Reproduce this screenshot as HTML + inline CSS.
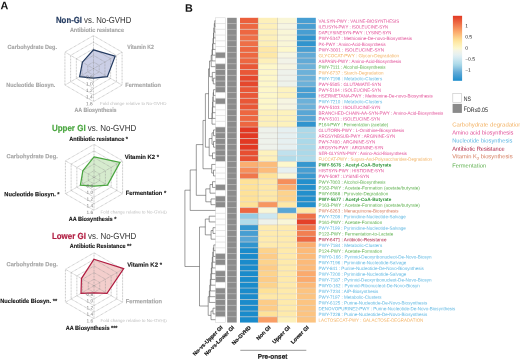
<!DOCTYPE html>
<html><head><meta charset="utf-8"><style>html,body{margin:0;padding:0;background:#fff;width:520px;height:360px;overflow:hidden}svg{display:block}</style></head><body>
<svg width="520" height="360" viewBox="0 0 520 360" font-family='"Liberation Sans", sans-serif' text-rendering="geometricPrecision">
<rect width="520" height="360" fill="#fff"/>
<rect x="240.0" y="17.80" width="18.20" height="5.75" fill="#eb5f3c"/>
<rect x="258.2" y="17.80" width="19.30" height="5.75" fill="#fdf0ba"/>
<rect x="277.5" y="17.80" width="18.80" height="5.75" fill="#f9f6d7"/>
<rect x="296.9" y="17.80" width="18.90" height="5.75" fill="#479ed2"/>
<rect x="240.0" y="23.55" width="18.20" height="5.75" fill="#ed6741"/>
<rect x="258.2" y="23.55" width="19.30" height="5.75" fill="#fdf0ba"/>
<rect x="277.5" y="23.55" width="18.80" height="5.75" fill="#f6f5e2"/>
<rect x="296.9" y="23.55" width="18.90" height="5.75" fill="#479ed2"/>
<rect x="240.0" y="29.30" width="18.20" height="5.75" fill="#ed6741"/>
<rect x="258.2" y="29.30" width="19.30" height="5.75" fill="#fdf0ba"/>
<rect x="277.5" y="29.30" width="18.80" height="5.75" fill="#f9f6d7"/>
<rect x="296.9" y="29.30" width="18.90" height="5.75" fill="#479ed2"/>
<rect x="240.0" y="35.05" width="18.20" height="5.75" fill="#ee6f47"/>
<rect x="258.2" y="35.05" width="19.30" height="5.75" fill="#fdf0ba"/>
<rect x="277.5" y="35.05" width="18.80" height="5.75" fill="#f9f6d7"/>
<rect x="296.9" y="35.05" width="18.90" height="5.75" fill="#3094ce"/>
<rect x="240.0" y="40.80" width="18.20" height="5.75" fill="#ee6f47"/>
<rect x="258.2" y="40.80" width="19.30" height="5.75" fill="#fdefb6"/>
<rect x="277.5" y="40.80" width="18.80" height="5.75" fill="#f9f6d7"/>
<rect x="296.9" y="40.80" width="18.90" height="5.75" fill="#3094ce"/>
<rect x="240.0" y="46.55" width="18.20" height="5.75" fill="#ed6741"/>
<rect x="258.2" y="46.55" width="19.30" height="5.75" fill="#fee8a7"/>
<rect x="277.5" y="46.55" width="18.80" height="5.75" fill="#fdf8cc"/>
<rect x="296.9" y="46.55" width="18.90" height="5.75" fill="#479ed2"/>
<rect x="240.0" y="52.30" width="18.20" height="5.75" fill="#ed6741"/>
<rect x="258.2" y="52.30" width="19.30" height="5.75" fill="#fee8a7"/>
<rect x="277.5" y="52.30" width="18.80" height="5.75" fill="#f6f5e2"/>
<rect x="296.9" y="52.30" width="18.90" height="5.75" fill="#62aad6"/>
<rect x="240.0" y="58.05" width="18.20" height="5.75" fill="#ed6741"/>
<rect x="258.2" y="58.05" width="19.30" height="5.75" fill="#fdf0ba"/>
<rect x="277.5" y="58.05" width="18.80" height="5.75" fill="#f2f3e8"/>
<rect x="296.9" y="58.05" width="18.90" height="5.75" fill="#62aad6"/>
<rect x="240.0" y="63.80" width="18.20" height="5.75" fill="#e95737"/>
<rect x="258.2" y="63.80" width="19.30" height="5.75" fill="#fdf7c9"/>
<rect x="277.5" y="63.80" width="18.80" height="5.75" fill="#f6f5e2"/>
<rect x="296.9" y="63.80" width="18.90" height="5.75" fill="#6cb1d9"/>
<rect x="240.0" y="69.55" width="18.20" height="5.75" fill="#e95737"/>
<rect x="258.2" y="69.55" width="19.30" height="5.75" fill="#fdf7c9"/>
<rect x="277.5" y="69.55" width="18.80" height="5.75" fill="#eef2eb"/>
<rect x="296.9" y="69.55" width="18.90" height="5.75" fill="#6cb1d9"/>
<rect x="240.0" y="75.30" width="18.20" height="5.75" fill="#e5482d"/>
<rect x="258.2" y="75.30" width="19.30" height="5.75" fill="#fdf7c9"/>
<rect x="277.5" y="75.30" width="18.80" height="5.75" fill="#eef2eb"/>
<rect x="296.9" y="75.30" width="18.90" height="5.75" fill="#6cb1d9"/>
<rect x="240.0" y="81.05" width="18.20" height="5.75" fill="#e5482d"/>
<rect x="258.2" y="81.05" width="19.30" height="5.75" fill="#fdf7c9"/>
<rect x="277.5" y="81.05" width="18.80" height="5.75" fill="#eef2eb"/>
<rect x="296.9" y="81.05" width="18.90" height="5.75" fill="#6cb1d9"/>
<rect x="240.0" y="86.80" width="18.20" height="5.75" fill="#e95737"/>
<rect x="258.2" y="86.80" width="19.30" height="5.75" fill="#fdf7c9"/>
<rect x="277.5" y="86.80" width="18.80" height="5.75" fill="#fdf3c0"/>
<rect x="296.9" y="86.80" width="18.90" height="5.75" fill="#479ed2"/>
<rect x="240.0" y="92.55" width="18.20" height="5.75" fill="#e95737"/>
<rect x="258.2" y="92.55" width="19.30" height="5.75" fill="#fdf7c9"/>
<rect x="277.5" y="92.55" width="18.80" height="5.75" fill="#fdf3c0"/>
<rect x="296.9" y="92.55" width="18.90" height="5.75" fill="#479ed2"/>
<rect x="240.0" y="98.30" width="18.20" height="5.75" fill="#e95737"/>
<rect x="258.2" y="98.30" width="19.30" height="5.75" fill="#fdf7c9"/>
<rect x="277.5" y="98.30" width="18.80" height="5.75" fill="#f6f5e2"/>
<rect x="296.9" y="98.30" width="18.90" height="5.75" fill="#6cb1d9"/>
<rect x="240.0" y="104.05" width="18.20" height="5.75" fill="#e95737"/>
<rect x="258.2" y="104.05" width="19.30" height="5.75" fill="#fdf7c9"/>
<rect x="277.5" y="104.05" width="18.80" height="5.75" fill="#f6f5e2"/>
<rect x="296.9" y="104.05" width="18.90" height="5.75" fill="#6cb1d9"/>
<rect x="240.0" y="109.80" width="18.20" height="5.75" fill="#ed6741"/>
<rect x="258.2" y="109.80" width="19.30" height="5.75" fill="#fdf0ba"/>
<rect x="277.5" y="109.80" width="18.80" height="5.75" fill="#fdf2bd"/>
<rect x="296.9" y="109.80" width="18.90" height="5.75" fill="#59a6d5"/>
<rect x="240.0" y="115.55" width="18.20" height="5.75" fill="#ed6741"/>
<rect x="258.2" y="115.55" width="19.30" height="5.75" fill="#fdf0ba"/>
<rect x="277.5" y="115.55" width="18.80" height="5.75" fill="#fdf2bd"/>
<rect x="296.9" y="115.55" width="18.90" height="5.75" fill="#59a6d5"/>
<rect x="240.0" y="121.30" width="18.20" height="5.75" fill="#ed6741"/>
<rect x="258.2" y="121.30" width="19.30" height="5.75" fill="#fdf0ba"/>
<rect x="277.5" y="121.30" width="18.80" height="5.75" fill="#fdf2bd"/>
<rect x="296.9" y="121.30" width="18.90" height="5.75" fill="#3094ce"/>
<rect x="240.0" y="127.05" width="18.20" height="5.75" fill="#e23823"/>
<rect x="258.2" y="127.05" width="19.30" height="5.75" fill="#eef2eb"/>
<rect x="277.5" y="127.05" width="18.80" height="5.75" fill="#e6f0f1"/>
<rect x="296.9" y="127.05" width="18.90" height="5.75" fill="#abd9e9"/>
<rect x="240.0" y="132.80" width="18.20" height="5.75" fill="#e23823"/>
<rect x="258.2" y="132.80" width="19.30" height="5.75" fill="#eef2eb"/>
<rect x="277.5" y="132.80" width="18.80" height="5.75" fill="#e6f0f1"/>
<rect x="296.9" y="132.80" width="18.90" height="5.75" fill="#abd9e9"/>
<rect x="240.0" y="138.55" width="18.20" height="5.75" fill="#e23823"/>
<rect x="258.2" y="138.55" width="19.30" height="5.75" fill="#eef2eb"/>
<rect x="277.5" y="138.55" width="18.80" height="5.75" fill="#e6f0f1"/>
<rect x="296.9" y="138.55" width="18.90" height="5.75" fill="#abd9e9"/>
<rect x="240.0" y="144.30" width="18.20" height="5.75" fill="#e23823"/>
<rect x="258.2" y="144.30" width="19.30" height="5.75" fill="#eef2eb"/>
<rect x="277.5" y="144.30" width="18.80" height="5.75" fill="#e6f0f1"/>
<rect x="296.9" y="144.30" width="18.90" height="5.75" fill="#abd9e9"/>
<rect x="240.0" y="150.05" width="18.20" height="5.75" fill="#e74f32"/>
<rect x="258.2" y="150.05" width="19.30" height="5.75" fill="#fdf2bd"/>
<rect x="277.5" y="150.05" width="18.80" height="5.75" fill="#c0e1ed"/>
<rect x="296.9" y="150.05" width="18.90" height="5.75" fill="#abd9e9"/>
<rect x="240.0" y="155.80" width="18.20" height="5.75" fill="#e74f32"/>
<rect x="258.2" y="155.80" width="19.30" height="5.75" fill="#fdf0ba"/>
<rect x="277.5" y="155.80" width="18.80" height="5.75" fill="#b2dcea"/>
<rect x="296.9" y="155.80" width="18.90" height="5.75" fill="#afdbea"/>
<rect x="240.0" y="161.55" width="18.20" height="5.75" fill="#fbae70"/>
<rect x="258.2" y="161.55" width="19.30" height="5.75" fill="#fcbc7b"/>
<rect x="277.5" y="161.55" width="18.80" height="5.75" fill="#fdf8cc"/>
<rect x="296.9" y="161.55" width="18.90" height="5.75" fill="#3597cf"/>
<rect x="240.0" y="167.30" width="18.20" height="5.75" fill="#f68e5b"/>
<rect x="258.2" y="167.30" width="19.30" height="5.75" fill="#fcbc7b"/>
<rect x="277.5" y="167.30" width="18.80" height="5.75" fill="#e6f0f1"/>
<rect x="296.9" y="167.30" width="18.90" height="5.75" fill="#479ed2"/>
<rect x="240.0" y="173.05" width="18.20" height="5.75" fill="#f0774c"/>
<rect x="258.2" y="173.05" width="19.30" height="5.75" fill="#fee298"/>
<rect x="277.5" y="173.05" width="18.80" height="5.75" fill="#f9f6d7"/>
<rect x="296.9" y="173.05" width="18.90" height="5.75" fill="#3998d0"/>
<rect x="240.0" y="178.80" width="18.20" height="5.75" fill="#fee298"/>
<rect x="258.2" y="178.80" width="19.30" height="5.75" fill="#fee8a7"/>
<rect x="277.5" y="178.80" width="18.80" height="5.75" fill="#f68e5b"/>
<rect x="296.9" y="178.80" width="18.90" height="5.75" fill="#238fcc"/>
<rect x="240.0" y="184.55" width="18.20" height="5.75" fill="#fee298"/>
<rect x="258.2" y="184.55" width="19.30" height="5.75" fill="#fee8a7"/>
<rect x="277.5" y="184.55" width="18.80" height="5.75" fill="#fbae70"/>
<rect x="296.9" y="184.55" width="18.90" height="5.75" fill="#238fcc"/>
<rect x="240.0" y="190.30" width="18.20" height="5.75" fill="#fee298"/>
<rect x="258.2" y="190.30" width="19.30" height="5.75" fill="#fee8a7"/>
<rect x="277.5" y="190.30" width="18.80" height="5.75" fill="#fdd38c"/>
<rect x="296.9" y="190.30" width="18.90" height="5.75" fill="#238fcc"/>
<rect x="240.0" y="196.05" width="18.20" height="5.75" fill="#fee298"/>
<rect x="258.2" y="196.05" width="19.30" height="5.75" fill="#fee8a7"/>
<rect x="277.5" y="196.05" width="18.80" height="5.75" fill="#fdd38c"/>
<rect x="296.9" y="196.05" width="18.90" height="5.75" fill="#238fcc"/>
<rect x="240.0" y="201.80" width="18.20" height="5.75" fill="#fee298"/>
<rect x="258.2" y="201.80" width="19.30" height="5.75" fill="#f79660"/>
<rect x="277.5" y="201.80" width="18.80" height="5.75" fill="#fee8a7"/>
<rect x="296.9" y="201.80" width="18.90" height="5.75" fill="#238fcc"/>
<rect x="240.0" y="207.55" width="18.20" height="5.75" fill="#ed6741"/>
<rect x="258.2" y="207.55" width="19.30" height="5.75" fill="#f9f6d7"/>
<rect x="277.5" y="207.55" width="18.80" height="5.75" fill="#59a6d5"/>
<rect x="296.9" y="207.55" width="18.90" height="5.75" fill="#fee8a7"/>
<rect x="240.0" y="213.30" width="18.20" height="5.75" fill="#96cce4"/>
<rect x="258.2" y="213.30" width="19.30" height="5.75" fill="#cde7f0"/>
<rect x="277.5" y="213.30" width="18.80" height="5.75" fill="#fee8a7"/>
<rect x="296.9" y="213.30" width="18.90" height="5.75" fill="#ee6f47"/>
<rect x="240.0" y="219.05" width="18.20" height="5.75" fill="#b2dcea"/>
<rect x="258.2" y="219.05" width="19.30" height="5.75" fill="#eef2eb"/>
<rect x="277.5" y="219.05" width="18.80" height="5.75" fill="#f9f6d7"/>
<rect x="296.9" y="219.05" width="18.90" height="5.75" fill="#e44028"/>
<rect x="240.0" y="224.80" width="18.20" height="5.75" fill="#3597cf"/>
<rect x="258.2" y="224.80" width="19.30" height="5.75" fill="#feebae"/>
<rect x="277.5" y="224.80" width="18.80" height="5.75" fill="#feebae"/>
<rect x="296.9" y="224.80" width="18.90" height="5.75" fill="#f0774c"/>
<rect x="240.0" y="230.55" width="18.20" height="5.75" fill="#479ed2"/>
<rect x="258.2" y="230.55" width="19.30" height="5.75" fill="#feebae"/>
<rect x="277.5" y="230.55" width="18.80" height="5.75" fill="#feebae"/>
<rect x="296.9" y="230.55" width="18.90" height="5.75" fill="#f27f51"/>
<rect x="240.0" y="236.30" width="18.20" height="5.75" fill="#59a6d5"/>
<rect x="258.2" y="236.30" width="19.30" height="5.75" fill="#feebae"/>
<rect x="277.5" y="236.30" width="18.80" height="5.75" fill="#feebae"/>
<rect x="296.9" y="236.30" width="18.90" height="5.75" fill="#ed6741"/>
<rect x="240.0" y="242.05" width="18.20" height="5.75" fill="#3094ce"/>
<rect x="258.2" y="242.05" width="19.30" height="5.75" fill="#feebae"/>
<rect x="277.5" y="242.05" width="18.80" height="5.75" fill="#feebae"/>
<rect x="296.9" y="242.05" width="18.90" height="5.75" fill="#fbae70"/>
<rect x="240.0" y="247.80" width="18.20" height="5.75" fill="#1a8bcb"/>
<rect x="258.2" y="247.80" width="19.30" height="5.75" fill="#fdd38c"/>
<rect x="277.5" y="247.80" width="18.80" height="5.75" fill="#feeaab"/>
<rect x="296.9" y="247.80" width="18.90" height="5.75" fill="#fcba79"/>
<rect x="240.0" y="253.55" width="18.20" height="5.75" fill="#1a8bcb"/>
<rect x="258.2" y="253.55" width="19.30" height="5.75" fill="#fdcc87"/>
<rect x="277.5" y="253.55" width="18.80" height="5.75" fill="#feeaab"/>
<rect x="296.9" y="253.55" width="18.90" height="5.75" fill="#fcba79"/>
<rect x="240.0" y="259.30" width="18.20" height="5.75" fill="#1a8bcb"/>
<rect x="258.2" y="259.30" width="19.30" height="5.75" fill="#fdd38c"/>
<rect x="277.5" y="259.30" width="18.80" height="5.75" fill="#feeaab"/>
<rect x="296.9" y="259.30" width="18.90" height="5.75" fill="#fcba79"/>
<rect x="240.0" y="265.05" width="18.20" height="5.75" fill="#1a8bcb"/>
<rect x="258.2" y="265.05" width="19.30" height="5.75" fill="#fdcc87"/>
<rect x="277.5" y="265.05" width="18.80" height="5.75" fill="#feeaab"/>
<rect x="296.9" y="265.05" width="18.90" height="5.75" fill="#fcba79"/>
<rect x="240.0" y="270.80" width="18.20" height="5.75" fill="#1a8bcb"/>
<rect x="258.2" y="270.80" width="19.30" height="5.75" fill="#fdd38c"/>
<rect x="277.5" y="270.80" width="18.80" height="5.75" fill="#feeaab"/>
<rect x="296.9" y="270.80" width="18.90" height="5.75" fill="#fbaa6d"/>
<rect x="240.0" y="276.55" width="18.20" height="5.75" fill="#1a8bcb"/>
<rect x="258.2" y="276.55" width="19.30" height="5.75" fill="#fdcc87"/>
<rect x="277.5" y="276.55" width="18.80" height="5.75" fill="#feeaab"/>
<rect x="296.9" y="276.55" width="18.90" height="5.75" fill="#fbaa6d"/>
<rect x="240.0" y="282.30" width="18.20" height="5.75" fill="#1a8bcb"/>
<rect x="258.2" y="282.30" width="19.30" height="5.75" fill="#fdd38c"/>
<rect x="277.5" y="282.30" width="18.80" height="5.75" fill="#feeaab"/>
<rect x="296.9" y="282.30" width="18.90" height="5.75" fill="#fcba79"/>
<rect x="240.0" y="288.05" width="18.20" height="5.75" fill="#1a8bcb"/>
<rect x="258.2" y="288.05" width="19.30" height="5.75" fill="#fee298"/>
<rect x="277.5" y="288.05" width="18.80" height="5.75" fill="#feeaab"/>
<rect x="296.9" y="288.05" width="18.90" height="5.75" fill="#fcc481"/>
<rect x="240.0" y="293.80" width="18.20" height="5.75" fill="#1a8bcb"/>
<rect x="258.2" y="293.80" width="19.30" height="5.75" fill="#fee8a7"/>
<rect x="277.5" y="293.80" width="18.80" height="5.75" fill="#feeaab"/>
<rect x="296.9" y="293.80" width="18.90" height="5.75" fill="#fcc481"/>
<rect x="240.0" y="299.55" width="18.20" height="5.75" fill="#1a8bcb"/>
<rect x="258.2" y="299.55" width="19.30" height="5.75" fill="#fdcc87"/>
<rect x="277.5" y="299.55" width="18.80" height="5.75" fill="#feeaab"/>
<rect x="296.9" y="299.55" width="18.90" height="5.75" fill="#fcc481"/>
<rect x="240.0" y="305.30" width="18.20" height="5.75" fill="#1a8bcb"/>
<rect x="258.2" y="305.30" width="19.30" height="5.75" fill="#fdcc87"/>
<rect x="277.5" y="305.30" width="18.80" height="5.75" fill="#feeaab"/>
<rect x="296.9" y="305.30" width="18.90" height="5.75" fill="#fcc481"/>
<rect x="240.0" y="311.05" width="18.20" height="5.75" fill="#1a8bcb"/>
<rect x="258.2" y="311.05" width="19.30" height="5.75" fill="#fee298"/>
<rect x="277.5" y="311.05" width="18.80" height="5.75" fill="#feeaab"/>
<rect x="296.9" y="311.05" width="18.90" height="5.75" fill="#fcc481"/>
<rect x="240.0" y="316.80" width="18.20" height="5.75" fill="#1a8bcb"/>
<rect x="258.2" y="316.80" width="19.30" height="5.75" fill="#f99e65"/>
<rect x="277.5" y="316.80" width="18.80" height="5.75" fill="#fdf0ba"/>
<rect x="296.9" y="316.80" width="18.90" height="5.75" fill="#fcc481"/>
<path d="M240 23.55H315.8 M240 29.30H315.8 M240 35.05H315.8 M240 40.80H315.8 M240 46.55H315.8 M240 52.30H315.8 M240 58.05H315.8 M240 63.80H315.8 M240 69.55H315.8 M240 75.30H315.8 M240 81.05H315.8 M240 86.80H315.8 M240 92.55H315.8 M240 98.30H315.8 M240 104.05H315.8 M240 109.80H315.8 M240 115.55H315.8 M240 121.30H315.8 M240 127.05H315.8 M240 132.80H315.8 M240 138.55H315.8 M240 144.30H315.8 M240 150.05H315.8 M240 155.80H315.8 M240 161.55H315.8 M240 167.30H315.8 M240 173.05H315.8 M240 178.80H315.8 M240 184.55H315.8 M240 190.30H315.8 M240 196.05H315.8 M240 201.80H315.8 M240 207.55H315.8 M240 213.30H315.8 M240 219.05H315.8 M240 224.80H315.8 M240 230.55H315.8 M240 236.30H315.8 M240 242.05H315.8 M240 247.80H315.8 M240 253.55H315.8 M240 259.30H315.8 M240 265.05H315.8 M240 270.80H315.8 M240 276.55H315.8 M240 282.30H315.8 M240 288.05H315.8 M240 293.80H315.8 M240 299.55H315.8 M240 305.30H315.8 M240 311.05H315.8 M240 316.80H315.8" stroke="#d6d0cb" stroke-opacity="0.8" stroke-width="0.75" fill="none"/>
<path d="M258.2 17.8V322.55M277.5 17.8V322.55" stroke="#a8a294" stroke-opacity="0.6" stroke-width="0.6"/>
<rect x="215.4" y="17.80" width="9.9" height="5.75" fill="#ffffff"/>
<rect x="227.2" y="17.80" width="9.5" height="5.75" fill="#8c8c8c"/>
<rect x="215.4" y="23.55" width="9.9" height="5.75" fill="#ffffff"/>
<rect x="227.2" y="23.55" width="9.5" height="5.75" fill="#8c8c8c"/>
<rect x="215.4" y="29.30" width="9.9" height="5.75" fill="#ffffff"/>
<rect x="227.2" y="29.30" width="9.5" height="5.75" fill="#8c8c8c"/>
<rect x="215.4" y="35.05" width="9.9" height="5.75" fill="#ffffff"/>
<rect x="227.2" y="35.05" width="9.5" height="5.75" fill="#8c8c8c"/>
<rect x="215.4" y="40.80" width="9.9" height="5.75" fill="#ffffff"/>
<rect x="227.2" y="40.80" width="9.5" height="5.75" fill="#8c8c8c"/>
<rect x="215.4" y="46.55" width="9.9" height="5.75" fill="#ffffff"/>
<rect x="227.2" y="46.55" width="9.5" height="5.75" fill="#8c8c8c"/>
<rect x="215.4" y="52.30" width="9.9" height="5.75" fill="#8c8c8c"/>
<rect x="227.2" y="52.30" width="9.5" height="5.75" fill="#8c8c8c"/>
<rect x="215.4" y="58.05" width="9.9" height="5.75" fill="#ffffff"/>
<rect x="227.2" y="58.05" width="9.5" height="5.75" fill="#8c8c8c"/>
<rect x="215.4" y="63.80" width="9.9" height="5.75" fill="#8c8c8c"/>
<rect x="227.2" y="63.80" width="9.5" height="5.75" fill="#8c8c8c"/>
<rect x="215.4" y="69.55" width="9.9" height="5.75" fill="#8c8c8c"/>
<rect x="227.2" y="69.55" width="9.5" height="5.75" fill="#8c8c8c"/>
<rect x="215.4" y="75.30" width="9.9" height="5.75" fill="#8c8c8c"/>
<rect x="227.2" y="75.30" width="9.5" height="5.75" fill="#8c8c8c"/>
<rect x="215.4" y="81.05" width="9.9" height="5.75" fill="#8c8c8c"/>
<rect x="227.2" y="81.05" width="9.5" height="5.75" fill="#8c8c8c"/>
<rect x="215.4" y="86.80" width="9.9" height="5.75" fill="#8c8c8c"/>
<rect x="227.2" y="86.80" width="9.5" height="5.75" fill="#8c8c8c"/>
<rect x="215.4" y="92.55" width="9.9" height="5.75" fill="#ffffff"/>
<rect x="227.2" y="92.55" width="9.5" height="5.75" fill="#8c8c8c"/>
<rect x="215.4" y="98.30" width="9.9" height="5.75" fill="#8c8c8c"/>
<rect x="227.2" y="98.30" width="9.5" height="5.75" fill="#8c8c8c"/>
<rect x="215.4" y="104.05" width="9.9" height="5.75" fill="#ffffff"/>
<rect x="227.2" y="104.05" width="9.5" height="5.75" fill="#8c8c8c"/>
<rect x="215.4" y="109.80" width="9.9" height="5.75" fill="#ffffff"/>
<rect x="227.2" y="109.80" width="9.5" height="5.75" fill="#8c8c8c"/>
<rect x="215.4" y="115.55" width="9.9" height="5.75" fill="#ffffff"/>
<rect x="227.2" y="115.55" width="9.5" height="5.75" fill="#8c8c8c"/>
<rect x="215.4" y="121.30" width="9.9" height="5.75" fill="#ffffff"/>
<rect x="227.2" y="121.30" width="9.5" height="5.75" fill="#8c8c8c"/>
<rect x="215.4" y="127.05" width="9.9" height="5.75" fill="#8c8c8c"/>
<rect x="227.2" y="127.05" width="9.5" height="5.75" fill="#8c8c8c"/>
<rect x="215.4" y="132.80" width="9.9" height="5.75" fill="#8c8c8c"/>
<rect x="227.2" y="132.80" width="9.5" height="5.75" fill="#8c8c8c"/>
<rect x="215.4" y="138.55" width="9.9" height="5.75" fill="#8c8c8c"/>
<rect x="227.2" y="138.55" width="9.5" height="5.75" fill="#8c8c8c"/>
<rect x="215.4" y="144.30" width="9.9" height="5.75" fill="#8c8c8c"/>
<rect x="227.2" y="144.30" width="9.5" height="5.75" fill="#8c8c8c"/>
<rect x="215.4" y="150.05" width="9.9" height="5.75" fill="#8c8c8c"/>
<rect x="227.2" y="150.05" width="9.5" height="5.75" fill="#8c8c8c"/>
<rect x="215.4" y="155.80" width="9.9" height="5.75" fill="#8c8c8c"/>
<rect x="227.2" y="155.80" width="9.5" height="5.75" fill="#8c8c8c"/>
<rect x="215.4" y="161.55" width="9.9" height="5.75" fill="#ffffff"/>
<rect x="227.2" y="161.55" width="9.5" height="5.75" fill="#8c8c8c"/>
<rect x="215.4" y="167.30" width="9.9" height="5.75" fill="#ffffff"/>
<rect x="227.2" y="167.30" width="9.5" height="5.75" fill="#8c8c8c"/>
<rect x="215.4" y="173.05" width="9.9" height="5.75" fill="#ffffff"/>
<rect x="227.2" y="173.05" width="9.5" height="5.75" fill="#8c8c8c"/>
<rect x="215.4" y="178.80" width="9.9" height="5.75" fill="#ffffff"/>
<rect x="227.2" y="178.80" width="9.5" height="5.75" fill="#8c8c8c"/>
<rect x="215.4" y="184.55" width="9.9" height="5.75" fill="#8c8c8c"/>
<rect x="227.2" y="184.55" width="9.5" height="5.75" fill="#8c8c8c"/>
<rect x="215.4" y="190.30" width="9.9" height="5.75" fill="#ffffff"/>
<rect x="227.2" y="190.30" width="9.5" height="5.75" fill="#8c8c8c"/>
<rect x="215.4" y="196.05" width="9.9" height="5.75" fill="#8c8c8c"/>
<rect x="227.2" y="196.05" width="9.5" height="5.75" fill="#8c8c8c"/>
<rect x="215.4" y="201.80" width="9.9" height="5.75" fill="#8c8c8c"/>
<rect x="227.2" y="201.80" width="9.5" height="5.75" fill="#8c8c8c"/>
<rect x="215.4" y="207.55" width="9.9" height="5.75" fill="#ffffff"/>
<rect x="227.2" y="207.55" width="9.5" height="5.75" fill="#8c8c8c"/>
<rect x="215.4" y="213.30" width="9.9" height="5.75" fill="#ffffff"/>
<rect x="227.2" y="213.30" width="9.5" height="5.75" fill="#8c8c8c"/>
<rect x="215.4" y="219.05" width="9.9" height="5.75" fill="#ffffff"/>
<rect x="227.2" y="219.05" width="9.5" height="5.75" fill="#8c8c8c"/>
<rect x="215.4" y="224.80" width="9.9" height="5.75" fill="#ffffff"/>
<rect x="227.2" y="224.80" width="9.5" height="5.75" fill="#8c8c8c"/>
<rect x="215.4" y="230.55" width="9.9" height="5.75" fill="#ffffff"/>
<rect x="227.2" y="230.55" width="9.5" height="5.75" fill="#8c8c8c"/>
<rect x="215.4" y="236.30" width="9.9" height="5.75" fill="#ffffff"/>
<rect x="227.2" y="236.30" width="9.5" height="5.75" fill="#8c8c8c"/>
<rect x="215.4" y="242.05" width="9.9" height="5.75" fill="#ffffff"/>
<rect x="227.2" y="242.05" width="9.5" height="5.75" fill="#8c8c8c"/>
<rect x="215.4" y="247.80" width="9.9" height="5.75" fill="#ffffff"/>
<rect x="227.2" y="247.80" width="9.5" height="5.75" fill="#8c8c8c"/>
<rect x="215.4" y="253.55" width="9.9" height="5.75" fill="#8c8c8c"/>
<rect x="227.2" y="253.55" width="9.5" height="5.75" fill="#8c8c8c"/>
<rect x="215.4" y="259.30" width="9.9" height="5.75" fill="#8c8c8c"/>
<rect x="227.2" y="259.30" width="9.5" height="5.75" fill="#8c8c8c"/>
<rect x="215.4" y="265.05" width="9.9" height="5.75" fill="#ffffff"/>
<rect x="227.2" y="265.05" width="9.5" height="5.75" fill="#8c8c8c"/>
<rect x="215.4" y="270.80" width="9.9" height="5.75" fill="#8c8c8c"/>
<rect x="227.2" y="270.80" width="9.5" height="5.75" fill="#8c8c8c"/>
<rect x="215.4" y="276.55" width="9.9" height="5.75" fill="#8c8c8c"/>
<rect x="227.2" y="276.55" width="9.5" height="5.75" fill="#8c8c8c"/>
<rect x="215.4" y="282.30" width="9.9" height="5.75" fill="#ffffff"/>
<rect x="227.2" y="282.30" width="9.5" height="5.75" fill="#8c8c8c"/>
<rect x="215.4" y="288.05" width="9.9" height="5.75" fill="#8c8c8c"/>
<rect x="227.2" y="288.05" width="9.5" height="5.75" fill="#8c8c8c"/>
<rect x="215.4" y="293.80" width="9.9" height="5.75" fill="#8c8c8c"/>
<rect x="227.2" y="293.80" width="9.5" height="5.75" fill="#8c8c8c"/>
<rect x="215.4" y="299.55" width="9.9" height="5.75" fill="#8c8c8c"/>
<rect x="227.2" y="299.55" width="9.5" height="5.75" fill="#8c8c8c"/>
<rect x="215.4" y="305.30" width="9.9" height="5.75" fill="#8c8c8c"/>
<rect x="227.2" y="305.30" width="9.5" height="5.75" fill="#8c8c8c"/>
<rect x="215.4" y="311.05" width="9.9" height="5.75" fill="#8c8c8c"/>
<rect x="227.2" y="311.05" width="9.5" height="5.75" fill="#8c8c8c"/>
<rect x="215.4" y="316.80" width="9.9" height="5.75" fill="#ffffff"/>
<rect x="227.2" y="316.80" width="9.5" height="5.75" fill="#8c8c8c"/>
<path d="M215.4 23.55H225.3 M215.4 29.30H225.3 M215.4 35.05H225.3 M215.4 40.80H225.3 M215.4 46.55H225.3 M215.4 52.30H225.3 M215.4 58.05H225.3 M215.4 63.80H225.3 M215.4 69.55H225.3 M215.4 75.30H225.3 M215.4 81.05H225.3 M215.4 86.80H225.3 M215.4 92.55H225.3 M215.4 98.30H225.3 M215.4 104.05H225.3 M215.4 109.80H225.3 M215.4 115.55H225.3 M215.4 121.30H225.3 M215.4 127.05H225.3 M215.4 132.80H225.3 M215.4 138.55H225.3 M215.4 144.30H225.3 M215.4 150.05H225.3 M215.4 155.80H225.3 M215.4 161.55H225.3 M215.4 167.30H225.3 M215.4 173.05H225.3 M215.4 178.80H225.3 M215.4 184.55H225.3 M215.4 190.30H225.3 M215.4 196.05H225.3 M215.4 201.80H225.3 M215.4 207.55H225.3 M215.4 213.30H225.3 M215.4 219.05H225.3 M215.4 224.80H225.3 M215.4 230.55H225.3 M215.4 236.30H225.3 M215.4 242.05H225.3 M215.4 247.80H225.3 M215.4 253.55H225.3 M215.4 259.30H225.3 M215.4 265.05H225.3 M215.4 270.80H225.3 M215.4 276.55H225.3 M215.4 282.30H225.3 M215.4 288.05H225.3 M215.4 293.80H225.3 M215.4 299.55H225.3 M215.4 305.30H225.3 M215.4 311.05H225.3 M215.4 316.80H225.3" stroke="#d4d4d4" stroke-width="0.6" fill="none"/>
<path d="M227.2 23.55H236.7 M227.2 29.30H236.7 M227.2 35.05H236.7 M227.2 40.80H236.7 M227.2 46.55H236.7 M227.2 52.30H236.7 M227.2 58.05H236.7 M227.2 63.80H236.7 M227.2 69.55H236.7 M227.2 75.30H236.7 M227.2 81.05H236.7 M227.2 86.80H236.7 M227.2 92.55H236.7 M227.2 98.30H236.7 M227.2 104.05H236.7 M227.2 109.80H236.7 M227.2 115.55H236.7 M227.2 121.30H236.7 M227.2 127.05H236.7 M227.2 132.80H236.7 M227.2 138.55H236.7 M227.2 144.30H236.7 M227.2 150.05H236.7 M227.2 155.80H236.7 M227.2 161.55H236.7 M227.2 167.30H236.7 M227.2 173.05H236.7 M227.2 178.80H236.7 M227.2 184.55H236.7 M227.2 190.30H236.7 M227.2 196.05H236.7 M227.2 201.80H236.7 M227.2 207.55H236.7 M227.2 213.30H236.7 M227.2 219.05H236.7 M227.2 224.80H236.7 M227.2 230.55H236.7 M227.2 236.30H236.7 M227.2 242.05H236.7 M227.2 247.80H236.7 M227.2 253.55H236.7 M227.2 259.30H236.7 M227.2 265.05H236.7 M227.2 270.80H236.7 M227.2 276.55H236.7 M227.2 282.30H236.7 M227.2 288.05H236.7 M227.2 293.80H236.7 M227.2 299.55H236.7 M227.2 305.30H236.7 M227.2 311.05H236.7 M227.2 316.80H236.7" stroke="#b4b4b4" stroke-width="0.6" fill="none"/>
<rect x="215.4" y="17.8" width="9.9" height="304.75" fill="none" stroke="#d0d0d0" stroke-width="0.5"/>
<path d="M214.75 20.68H215.40 M214.75 26.43H215.40 M214.75 20.68V26.43 M214.30 23.55H214.75 M214.30 32.17H215.40 M214.30 23.55V32.17 M213.80 27.86H214.30 M213.80 37.92H215.40 M213.80 27.86V37.92 M213.50 32.89H213.80 M213.50 43.67H215.40 M213.50 32.89V43.67 M213.00 38.28H213.50 M213.00 49.42H215.40 M213.00 38.28V49.42 M212.50 43.85H213.00 M212.50 55.17H215.40 M212.50 43.85V55.17 M212.00 49.51H212.50 M212.00 60.92H215.40 M212.00 49.51V60.92 M211.20 55.22H212.00 M211.20 66.67H215.40 M211.20 55.22V66.67 M213.30 78.17H215.40 M213.30 83.92H215.40 M213.30 78.17V83.92 M212.30 72.42H215.40 M212.30 81.05H213.30 M212.30 72.42V81.05 M209.50 60.95H211.20 M209.50 76.74H212.30 M209.50 60.95V76.74 M213.50 89.67H215.40 M213.50 95.42H215.40 M213.50 89.67V95.42 M213.20 92.55H213.50 M213.20 101.17H215.40 M213.20 92.55V101.17 M212.90 96.86H213.20 M212.90 106.92H215.40 M212.90 96.86V106.92 M212.60 101.89H212.90 M212.60 112.67H215.40 M212.60 101.89V112.67 M212.30 107.28H212.60 M212.30 118.42H215.40 M212.30 107.28V118.42 M212.00 112.85H212.30 M212.00 124.17H215.40 M212.00 112.85V124.17 M208.50 68.84H209.50 M208.50 118.51H212.00 M208.50 68.84V118.51 M213.50 129.93H215.40 M213.50 135.68H215.40 M213.50 129.93V135.68 M213.50 141.43H215.40 M213.50 147.18H215.40 M213.50 141.43V147.18 M212.00 132.80H213.50 M212.00 144.30H213.50 M212.00 132.80V144.30 M212.50 152.93H215.40 M212.50 158.68H215.40 M212.50 152.93V158.68 M209.20 138.55H212.00 M209.20 155.80H212.50 M209.20 138.55V155.80 M205.40 93.68H208.50 M205.40 147.18H209.20 M205.40 93.68V147.18 M213.50 170.18H215.40 M213.50 175.93H215.40 M213.50 170.18V175.93 M211.70 164.43H215.40 M211.70 173.05H213.50 M211.70 164.43V173.05 M203.00 120.43H205.40 M203.00 168.74H211.70 M203.00 120.43V168.74 M212.50 181.68H215.40 M212.50 187.43H215.40 M212.50 181.68V187.43 M210.00 184.55H212.50 M210.00 193.18H215.40 M210.00 184.55V193.18 M211.00 198.93H215.40 M211.00 204.68H215.40 M211.00 198.93V204.68 M205.80 188.86H210.00 M205.80 201.80H211.00 M205.80 188.86V201.80 M196.30 144.58H203.00 M196.30 195.33H205.80 M196.30 144.58V195.33 M190.20 169.96H196.30 M190.20 210.43H215.40 M190.20 169.96V210.43 M209.20 216.18H215.40 M209.20 221.93H215.40 M209.20 216.18V221.93 M213.00 227.68H215.40 M213.00 233.43H215.40 M213.00 227.68V233.43 M211.10 230.55H213.00 M211.10 239.18H215.40 M211.10 230.55V239.18 M205.30 219.05H209.20 M205.30 234.86H211.10 M205.30 219.05V234.86 M213.80 244.93H215.40 M213.80 250.68H215.40 M213.80 244.93V250.68 M213.30 247.80H213.80 M213.30 256.43H215.40 M213.30 247.80V256.43 M212.80 252.11H213.30 M212.80 262.18H215.40 M212.80 252.11V262.18 M212.30 257.14H212.80 M212.30 267.93H215.40 M212.30 257.14V267.93 M211.80 262.53H212.30 M211.80 273.68H215.40 M211.80 262.53V273.68 M211.30 268.10H211.80 M211.30 279.43H215.40 M211.30 268.10V279.43 M210.80 273.76H211.30 M210.80 285.18H215.40 M210.80 273.76V285.18 M210.30 279.47H210.80 M210.30 290.93H215.40 M210.30 279.47V290.93 M209.80 285.20H210.30 M209.80 296.68H215.40 M209.80 285.20V296.68 M209.30 290.94H209.80 M209.30 302.43H215.40 M209.30 290.94V302.43 M213.00 308.18H215.40 M213.00 313.93H215.40 M213.00 308.18V313.93 M211.00 311.05H213.00 M211.00 319.68H215.40 M211.00 311.05V319.68 M208.20 296.68H209.30 M208.20 315.36H211.00 M208.20 296.68V315.36 M199.50 226.96H205.30 M199.50 306.02H208.20 M199.50 226.96V306.02 M184.90 190.19H190.20 M184.90 266.49H199.50 M184.90 190.19V266.49" stroke="#3a3a3a" stroke-width="0.5" fill="none"/>
<path d="M240.3 350.3H306.3" stroke="#333" stroke-width="0.5"/>
<defs><linearGradient id="cb" x1="0" y1="1" x2="0" y2="0">
<stop offset="0.000" stop-color="#1e8dcc"/>
<stop offset="0.033" stop-color="#2f94ce"/>
<stop offset="0.067" stop-color="#419cd1"/>
<stop offset="0.100" stop-color="#52a3d4"/>
<stop offset="0.133" stop-color="#64abd7"/>
<stop offset="0.167" stop-color="#79b9dc"/>
<stop offset="0.200" stop-color="#8dc6e1"/>
<stop offset="0.233" stop-color="#a1d3e6"/>
<stop offset="0.267" stop-color="#b2dcea"/>
<stop offset="0.300" stop-color="#bfe1ed"/>
<stop offset="0.333" stop-color="#cde7f0"/>
<stop offset="0.367" stop-color="#daecf2"/>
<stop offset="0.400" stop-color="#e5f0f1"/>
<stop offset="0.433" stop-color="#edf2eb"/>
<stop offset="0.467" stop-color="#f5f4e4"/>
<stop offset="0.500" stop-color="#fcf8cf"/>
<stop offset="0.533" stop-color="#fdf3c0"/>
<stop offset="0.567" stop-color="#feedb1"/>
<stop offset="0.600" stop-color="#fee7a3"/>
<stop offset="0.633" stop-color="#fede95"/>
<stop offset="0.667" stop-color="#fdd08a"/>
<stop offset="0.700" stop-color="#fcc17f"/>
<stop offset="0.733" stop-color="#fcb273"/>
<stop offset="0.767" stop-color="#faa368"/>
<stop offset="0.800" stop-color="#f7945e"/>
<stop offset="0.833" stop-color="#f38555"/>
<stop offset="0.867" stop-color="#f0754b"/>
<stop offset="0.900" stop-color="#ec6641"/>
<stop offset="0.933" stop-color="#e95737"/>
<stop offset="0.967" stop-color="#e5472d"/>
<stop offset="1.000" stop-color="#e23823"/>
</linearGradient></defs>
<rect x="452.9" y="15.8" width="9.2" height="65" fill="url(#cb)"/>
<rect x="452.8" y="93.5" width="8.9" height="9.0" fill="#fff" stroke="#c4c4c4" stroke-width="0.6"/>
<rect x="452.6" y="103.9" width="9.3" height="9.0" fill="#8a8a8a"/>
<polygon points="93.50,49.80 115.15,56.10 107.36,76.60 93.50,78.10 79.64,76.60 82.41,62.20" fill="#cbcfe6" stroke="none"/>
<polygon points="93.50,62.00 99.22,65.30 99.22,71.90 93.50,75.20 87.78,71.90 87.78,65.30" fill="none" stroke="#8c8c8c" stroke-width="0.55" stroke-dasharray="0.8,0.7"/>
<polygon points="93.50,55.40 104.93,62.00 104.93,75.20 93.50,81.80 82.07,75.20 82.07,62.00" fill="none" stroke="#8c8c8c" stroke-width="0.55" stroke-dasharray="0.8,0.7"/>
<polygon points="93.50,48.80 110.65,58.70 110.65,78.50 93.50,88.40 76.35,78.50 76.35,58.70" fill="none" stroke="#8c8c8c" stroke-width="0.55" stroke-dasharray="0.8,0.7"/>
<polygon points="93.50,42.20 116.36,55.40 116.36,81.80 93.50,95.00 70.64,81.80 70.64,55.40" fill="none" stroke="#8c8c8c" stroke-width="0.55" stroke-dasharray="0.8,0.7"/>
<polygon points="93.50,35.60 122.08,52.10 122.08,85.10 93.50,101.60 64.92,85.10 64.92,52.10" fill="none" stroke="#8c8c8c" stroke-width="0.55" stroke-dasharray="0.8,0.7"/>
<path d="M93.50 68.60L93.50 35.60" stroke="#8c8c8c" stroke-width="0.55" stroke-dasharray="0.8,0.7"/>
<path d="M93.50 68.60L122.08 52.10" stroke="#8c8c8c" stroke-width="0.55" stroke-dasharray="0.8,0.7"/>
<path d="M93.50 68.60L122.08 85.10" stroke="#8c8c8c" stroke-width="0.55" stroke-dasharray="0.8,0.7"/>
<path d="M93.50 68.60L93.50 101.60" stroke="#8c8c8c" stroke-width="0.55" stroke-dasharray="0.8,0.7"/>
<path d="M93.50 68.60L64.92 85.10" stroke="#8c8c8c" stroke-width="0.55" stroke-dasharray="0.8,0.7"/>
<path d="M93.50 68.60L64.92 52.10" stroke="#8c8c8c" stroke-width="0.55" stroke-dasharray="0.8,0.7"/>
<polygon points="93.50,49.80 115.15,56.10 107.36,76.60 93.50,78.10 79.64,76.60 82.41,62.20" fill="none" stroke="#233a60" stroke-width="1.2" stroke-linejoin="miter"/>
<polygon points="94.00,156.90 119.98,162.30 107.51,185.10 94.00,186.10 80.40,185.15 82.83,170.85" fill="#d6ebce" stroke="none"/>
<polygon points="94.00,170.70 99.72,174.00 99.72,180.60 94.00,183.90 88.28,180.60 88.28,174.00" fill="none" stroke="#8c8c8c" stroke-width="0.55" stroke-dasharray="0.8,0.7"/>
<polygon points="94.00,164.10 105.43,170.70 105.43,183.90 94.00,190.50 82.57,183.90 82.57,170.70" fill="none" stroke="#8c8c8c" stroke-width="0.55" stroke-dasharray="0.8,0.7"/>
<polygon points="94.00,157.50 111.15,167.40 111.15,187.20 94.00,197.10 76.85,187.20 76.85,167.40" fill="none" stroke="#8c8c8c" stroke-width="0.55" stroke-dasharray="0.8,0.7"/>
<polygon points="94.00,150.90 116.86,164.10 116.86,190.50 94.00,203.70 71.14,190.50 71.14,164.10" fill="none" stroke="#8c8c8c" stroke-width="0.55" stroke-dasharray="0.8,0.7"/>
<polygon points="94.00,144.30 122.58,160.80 122.58,193.80 94.00,210.30 65.42,193.80 65.42,160.80" fill="none" stroke="#8c8c8c" stroke-width="0.55" stroke-dasharray="0.8,0.7"/>
<path d="M94.00 177.30L94.00 144.30" stroke="#8c8c8c" stroke-width="0.55" stroke-dasharray="0.8,0.7"/>
<path d="M94.00 177.30L122.58 160.80" stroke="#8c8c8c" stroke-width="0.55" stroke-dasharray="0.8,0.7"/>
<path d="M94.00 177.30L122.58 193.80" stroke="#8c8c8c" stroke-width="0.55" stroke-dasharray="0.8,0.7"/>
<path d="M94.00 177.30L94.00 210.30" stroke="#8c8c8c" stroke-width="0.55" stroke-dasharray="0.8,0.7"/>
<path d="M94.00 177.30L65.42 193.80" stroke="#8c8c8c" stroke-width="0.55" stroke-dasharray="0.8,0.7"/>
<path d="M94.00 177.30L65.42 160.80" stroke="#8c8c8c" stroke-width="0.55" stroke-dasharray="0.8,0.7"/>
<polygon points="94.00,156.90 119.98,162.30 107.51,185.10 94.00,186.10 80.40,185.15 82.83,170.85" fill="none" stroke="#4aa640" stroke-width="1.2" stroke-linejoin="miter"/>
<polygon points="94.00,259.20 123.70,268.65 106.99,293.30 94.00,292.80 81.01,293.30 81.44,278.55" fill="#f3cecc" stroke="none"/>
<polygon points="94.00,279.20 99.72,282.50 99.72,289.10 94.00,292.40 88.28,289.10 88.28,282.50" fill="none" stroke="#8c8c8c" stroke-width="0.55" stroke-dasharray="0.8,0.7"/>
<polygon points="94.00,272.60 105.43,279.20 105.43,292.40 94.00,299.00 82.57,292.40 82.57,279.20" fill="none" stroke="#8c8c8c" stroke-width="0.55" stroke-dasharray="0.8,0.7"/>
<polygon points="94.00,266.00 111.15,275.90 111.15,295.70 94.00,305.60 76.85,295.70 76.85,275.90" fill="none" stroke="#8c8c8c" stroke-width="0.55" stroke-dasharray="0.8,0.7"/>
<polygon points="94.00,259.40 116.86,272.60 116.86,299.00 94.00,312.20 71.14,299.00 71.14,272.60" fill="none" stroke="#8c8c8c" stroke-width="0.55" stroke-dasharray="0.8,0.7"/>
<polygon points="94.00,252.80 122.58,269.30 122.58,302.30 94.00,318.80 65.42,302.30 65.42,269.30" fill="none" stroke="#8c8c8c" stroke-width="0.55" stroke-dasharray="0.8,0.7"/>
<path d="M94.00 285.80L94.00 252.80" stroke="#8c8c8c" stroke-width="0.55" stroke-dasharray="0.8,0.7"/>
<path d="M94.00 285.80L122.58 269.30" stroke="#8c8c8c" stroke-width="0.55" stroke-dasharray="0.8,0.7"/>
<path d="M94.00 285.80L122.58 302.30" stroke="#8c8c8c" stroke-width="0.55" stroke-dasharray="0.8,0.7"/>
<path d="M94.00 285.80L94.00 318.80" stroke="#8c8c8c" stroke-width="0.55" stroke-dasharray="0.8,0.7"/>
<path d="M94.00 285.80L65.42 302.30" stroke="#8c8c8c" stroke-width="0.55" stroke-dasharray="0.8,0.7"/>
<path d="M94.00 285.80L65.42 269.30" stroke="#8c8c8c" stroke-width="0.55" stroke-dasharray="0.8,0.7"/>
<polygon points="94.00,259.20 123.70,268.65 106.99,293.30 94.00,292.80 81.01,293.30 81.44,278.55" fill="none" stroke="#b01c40" stroke-width="1.2" stroke-linejoin="miter"/>
<g opacity="0.99">
<text x="0.4" y="9.3" font-size="10.8" font-weight="bold" fill="#111" transform="rotate(0.03 0.4 9.3)">A</text>
<text x="185" y="11.7" font-size="10.8" font-weight="bold" fill="#111" transform="rotate(0.03 185 11.7)">B</text>
<text x="318.6" y="22.68" font-size="4.6" fill="#e04a94" textLength="80.5" lengthAdjust="spacingAndGlyphs" transform="rotate(0.03 318.6 22.68)">VALSYN-PWY : VALINE-BIOSYNTHESIS</text>
<text x="318.6" y="28.43" font-size="4.6" fill="#e04a94" textLength="69.6" lengthAdjust="spacingAndGlyphs" transform="rotate(0.03 318.6 28.43)">ILEUSYN-PWY : ISOLEUCINE-SYN</text>
<text x="318.6" y="34.17" font-size="4.6" fill="#e04a94" textLength="72.7" lengthAdjust="spacingAndGlyphs" transform="rotate(0.03 318.6 34.17)">DAPLYSINESYN-PWY : LYSINE-SYN</text>
<text x="318.6" y="39.92" font-size="4.6" fill="#e04a94" textLength="93.5" lengthAdjust="spacingAndGlyphs" transform="rotate(0.03 318.6 39.92)">PWY-5347 : Methionine-De-novo-Biosynthesis</text>
<text x="318.6" y="45.67" font-size="4.6" fill="#e04a94" textLength="67.0" lengthAdjust="spacingAndGlyphs" transform="rotate(0.03 318.6 45.67)">PK-PWY : Amino-Acid-Biosynthesis</text>
<text x="318.6" y="51.42" font-size="4.6" fill="#e04a94" textLength="65.5" lengthAdjust="spacingAndGlyphs" transform="rotate(0.03 318.6 51.42)">PWY-3001 : ISOLEUCINE-SYN</text>
<text x="318.6" y="57.17" font-size="4.6" fill="#f2b060" textLength="80.5" lengthAdjust="spacingAndGlyphs" transform="rotate(0.03 318.6 57.17)">GLYCOCAT-PWY : Glycan-Degradation</text>
<text x="318.6" y="62.92" font-size="4.6" fill="#e04a94" textLength="82.6" lengthAdjust="spacingAndGlyphs" transform="rotate(0.03 318.6 62.92)">ASPASN-PWY : Amino-Acid-Biosynthesis</text>
<text x="318.6" y="68.67" font-size="4.6" fill="#5aae4a" textLength="67.0" lengthAdjust="spacingAndGlyphs" transform="rotate(0.03 318.6 68.67)">PWY-7111 : Alcohol-Biosynthesis</text>
<text x="318.6" y="74.42" font-size="4.6" fill="#f2b060" textLength="64.9" lengthAdjust="spacingAndGlyphs" transform="rotate(0.03 318.6 74.42)">PWY-6737 : Starch-Degradation</text>
<text x="318.6" y="80.17" font-size="4.6" fill="#5cb6e2" textLength="63.6" lengthAdjust="spacingAndGlyphs" transform="rotate(0.03 318.6 80.17)">PWY-7198 : Metabolic-Clusters</text>
<text x="318.6" y="85.92" font-size="4.6" fill="#e04a94" textLength="62.3" lengthAdjust="spacingAndGlyphs" transform="rotate(0.03 318.6 85.92)">PWY-5505 : GLUTAMATE-SYN</text>
<text x="318.6" y="91.67" font-size="4.6" fill="#e04a94" textLength="62.3" lengthAdjust="spacingAndGlyphs" transform="rotate(0.03 318.6 91.67)">PWY-5104 : ISOLEUCINE-SYN</text>
<text x="318.6" y="97.42" font-size="4.6" fill="#e04a94" textLength="114.3" lengthAdjust="spacingAndGlyphs" transform="rotate(0.03 318.6 97.42)">HSERMETANA-PWY : Methionine-De-novo-Biosynthesis</text>
<text x="318.6" y="103.17" font-size="4.6" fill="#5cb6e2" textLength="63.6" lengthAdjust="spacingAndGlyphs" transform="rotate(0.03 318.6 103.17)">PWY-7210 : Metabolic-Clusters</text>
<text x="318.6" y="108.92" font-size="4.6" fill="#e04a94" textLength="61.8" lengthAdjust="spacingAndGlyphs" transform="rotate(0.03 318.6 108.92)">PWY-5103 : ISOLEUCINE-SYN</text>
<text x="318.6" y="114.67" font-size="4.6" fill="#e04a94" textLength="124.7" lengthAdjust="spacingAndGlyphs" transform="rotate(0.03 318.6 114.67)">BRANCHED-CHAIN-AA-SYN-PWY : Amino-Acid-Biosynthesis</text>
<text x="318.6" y="120.42" font-size="4.6" fill="#e04a94" textLength="61.3" lengthAdjust="spacingAndGlyphs" transform="rotate(0.03 318.6 120.42)">PWY-5101 : ISOLEUCINE-SYN</text>
<text x="318.6" y="126.17" font-size="4.6" fill="#5aae4a" textLength="69.6" lengthAdjust="spacingAndGlyphs" transform="rotate(0.03 318.6 126.17)">P164-PWY : Fermentation (acetate)</text>
<text x="318.6" y="131.93" font-size="4.6" fill="#e04a94" textLength="85.7" lengthAdjust="spacingAndGlyphs" transform="rotate(0.03 318.6 131.93)">GLUTORN-PWY : L-Ornithine-Biosynthesis</text>
<text x="318.6" y="137.68" font-size="4.6" fill="#e04a94" textLength="76.6" lengthAdjust="spacingAndGlyphs" transform="rotate(0.03 318.6 137.68)">ARGSYNBSUB-PWY : ARGININE-SYN</text>
<text x="318.6" y="143.43" font-size="4.6" fill="#e04a94" textLength="56.6" lengthAdjust="spacingAndGlyphs" transform="rotate(0.03 318.6 143.43)">PWY-7400 : ARGININE-SYN</text>
<text x="318.6" y="149.18" font-size="4.6" fill="#e04a94" textLength="64.9" lengthAdjust="spacingAndGlyphs" transform="rotate(0.03 318.6 149.18)">ARGSYN-PWY : ARGININE-SYN</text>
<text x="318.6" y="154.93" font-size="4.6" fill="#e04a94" textLength="88.3" lengthAdjust="spacingAndGlyphs" transform="rotate(0.03 318.6 154.93)">SER-GLYSYN-PWY : Amino-Acid-Biosynthesis</text>
<text x="318.6" y="160.68" font-size="4.6" fill="#f2b060" textLength="113.4" lengthAdjust="spacingAndGlyphs" transform="rotate(0.03 318.6 160.68)">FUCCAT-PWY : Sugars-And-Polysaccharides-Degradation</text>
<text x="318.6" y="166.43" font-size="4.6" fill="#2e9438" textLength="72.7" lengthAdjust="spacingAndGlyphs" font-weight="bold" transform="rotate(0.03 318.6 166.43)">PWY-5676 : Acetyl-CoA-Butyrate</text>
<text x="318.6" y="172.18" font-size="4.6" fill="#e04a94" textLength="65.4" lengthAdjust="spacingAndGlyphs" transform="rotate(0.03 318.6 172.18)">HISTSYN-PWY : HISTIDINE-SYN</text>
<text x="318.6" y="177.93" font-size="4.6" fill="#e04a94" textLength="50.6" lengthAdjust="spacingAndGlyphs" transform="rotate(0.03 318.6 177.93)">PWY-5097 : LYSINE-SYN</text>
<text x="318.6" y="183.68" font-size="4.6" fill="#5aae4a" textLength="67.0" lengthAdjust="spacingAndGlyphs" transform="rotate(0.03 318.6 183.68)">PWY-7003 : Alcohol-Biosynthesis</text>
<text x="318.6" y="189.43" font-size="4.6" fill="#5aae4a" textLength="101.3" lengthAdjust="spacingAndGlyphs" transform="rotate(0.03 318.6 189.43)">P162-PWY : Acetate-Formation (acetate/butyrate)</text>
<text x="318.6" y="195.18" font-size="4.6" fill="#5aae4a" textLength="69.6" lengthAdjust="spacingAndGlyphs" transform="rotate(0.03 318.6 195.18)">PWY-6588 : Pyruvate-Degradation</text>
<text x="318.6" y="200.93" font-size="4.6" fill="#2e9438" textLength="72.7" lengthAdjust="spacingAndGlyphs" font-weight="bold" transform="rotate(0.03 318.6 200.93)">PWY-5677 : Acetyl-CoA-Butyrate</text>
<text x="318.6" y="206.68" font-size="4.6" fill="#5aae4a" textLength="101.3" lengthAdjust="spacingAndGlyphs" transform="rotate(0.03 318.6 206.68)">P163-PWY : Acetate-Formation (acetate/butyrate)</text>
<text x="318.6" y="212.43" font-size="4.6" fill="#d47a5c" textLength="80.0" lengthAdjust="spacingAndGlyphs" transform="rotate(0.03 318.6 212.43)">PWY-6263 : Menaquinone-Biosynthesis</text>
<text x="318.6" y="218.18" font-size="4.6" fill="#5cb6e2" textLength="87.2" lengthAdjust="spacingAndGlyphs" transform="rotate(0.03 318.6 218.18)">PWY-7208 : Pyrimidine-Nucleotide-Salvage</text>
<text x="318.6" y="223.93" font-size="4.6" fill="#5aae4a" textLength="63.6" lengthAdjust="spacingAndGlyphs" transform="rotate(0.03 318.6 223.93)">P161-PWY : Acetate-Formation</text>
<text x="318.6" y="229.68" font-size="4.6" fill="#5cb6e2" textLength="87.2" lengthAdjust="spacingAndGlyphs" transform="rotate(0.03 318.6 229.68)">PWY-7199 : Pyrimidine-Nucleotide-Salvage</text>
<text x="318.6" y="235.43" font-size="4.6" fill="#5aae4a" textLength="74.8" lengthAdjust="spacingAndGlyphs" transform="rotate(0.03 318.6 235.43)">P122-PWY : Fermentation-to-Lactate</text>
<text x="318.6" y="241.18" font-size="4.6" fill="#a8183c" textLength="68.0" lengthAdjust="spacingAndGlyphs" transform="rotate(0.03 318.6 241.18)">PWY-6471 : Antibiotic-Resistance</text>
<text x="318.6" y="246.93" font-size="4.6" fill="#5cb6e2" textLength="63.6" lengthAdjust="spacingAndGlyphs" transform="rotate(0.03 318.6 246.93)">PWY-7184 : Metabolic-Clusters</text>
<text x="318.6" y="252.68" font-size="4.6" fill="#5aae4a" textLength="63.6" lengthAdjust="spacingAndGlyphs" transform="rotate(0.03 318.6 252.68)">P124-PWY : Acetate-Formation</text>
<text x="318.6" y="258.43" font-size="4.6" fill="#5cb6e2" textLength="113.0" lengthAdjust="spacingAndGlyphs" transform="rotate(0.03 318.6 258.43)">PWY0-166 : Pyrimid-Deoxyribonucleot-De-Novo-Biosyn</text>
<text x="318.6" y="264.18" font-size="4.6" fill="#5cb6e2" textLength="87.7" lengthAdjust="spacingAndGlyphs" transform="rotate(0.03 318.6 264.18)">PWY-7196 : Pyrimidine-Nucleotide-Salvage</text>
<text x="318.6" y="269.93" font-size="4.6" fill="#5cb6e2" textLength="105.2" lengthAdjust="spacingAndGlyphs" transform="rotate(0.03 318.6 269.93)">PWY-841 : Purine-Nucleotide-De-Novo-Biosynthesis</text>
<text x="318.6" y="275.68" font-size="4.6" fill="#5cb6e2" textLength="87.7" lengthAdjust="spacingAndGlyphs" transform="rotate(0.03 318.6 275.68)">PWY-7200 : Pyrimidine-Nucleotide-Salvage</text>
<text x="318.6" y="281.43" font-size="4.6" fill="#5cb6e2" textLength="113.0" lengthAdjust="spacingAndGlyphs" transform="rotate(0.03 318.6 281.43)">PWY-7187 : Pyrimid-Deoxyribonucleot-De-Novo-Biosyn</text>
<text x="318.6" y="287.18" font-size="4.6" fill="#5cb6e2" textLength="101.3" lengthAdjust="spacingAndGlyphs" transform="rotate(0.03 318.6 287.18)">PWY0-162 : Pyrimid-Ribonucleot-De-Novo-Biosyn</text>
<text x="318.6" y="292.93" font-size="4.6" fill="#5cb6e2" textLength="59.7" lengthAdjust="spacingAndGlyphs" transform="rotate(0.03 318.6 292.93)">PWY-7234 : AIP-Biosynthesis</text>
<text x="318.6" y="298.68" font-size="4.6" fill="#5cb6e2" textLength="62.9" lengthAdjust="spacingAndGlyphs" transform="rotate(0.03 318.6 298.68)">PWY-7197 : Metabolic-Clusters</text>
<text x="318.6" y="304.43" font-size="4.6" fill="#5cb6e2" textLength="108.6" lengthAdjust="spacingAndGlyphs" transform="rotate(0.03 318.6 304.43)">PWY-6125 : Purine-Nucleotide-De-Novo-Biosynthesis</text>
<text x="318.6" y="310.18" font-size="4.6" fill="#5cb6e2" textLength="136.6" lengthAdjust="spacingAndGlyphs" transform="rotate(0.03 318.6 310.18)">DENOVOPURINE2-PWY : Purine-Nucleotide-De-Novo-Biosynthesis</text>
<text x="318.6" y="315.93" font-size="4.6" fill="#5cb6e2" textLength="108.6" lengthAdjust="spacingAndGlyphs" transform="rotate(0.03 318.6 315.93)">PWY-7228 : Purine-Nucleotide-De-Novo-Biosynthesis</text>
<text x="318.6" y="321.68" font-size="4.6" fill="#f2b060" textLength="104.7" lengthAdjust="spacingAndGlyphs" transform="rotate(0.03 318.6 321.68)">LACTOSECAT-PWY : GALACTOSE-DEGRADATION</text>
<text transform="translate(223.0,327.95) rotate(-45)" text-anchor="end" font-size="5.4" font-weight="bold" fill="#111" stroke="#111" stroke-width="0.18">No-vs-Upper GI</text>
<text transform="translate(234.6,327.95) rotate(-45)" text-anchor="end" font-size="5.4" font-weight="bold" fill="#111" stroke="#111" stroke-width="0.18">No-vs-Lower GI</text>
<text transform="translate(251.3,327.95) rotate(-45)" text-anchor="end" font-size="5.4" font-weight="bold" fill="#111" stroke="#111" stroke-width="0.18">No-GVHD</text>
<text transform="translate(271.0,327.95) rotate(-45)" text-anchor="end" font-size="5.4" font-weight="bold" fill="#111" stroke="#111" stroke-width="0.18">Non GI</text>
<text transform="translate(290.5,327.95) rotate(-45)" text-anchor="end" font-size="5.4" font-weight="bold" fill="#111" stroke="#111" stroke-width="0.18">Upper GI</text>
<text transform="translate(309.2,327.95) rotate(-45)" text-anchor="end" font-size="5.4" font-weight="bold" fill="#111" stroke="#111" stroke-width="0.18">Lower GI</text>
<text x="272.6" y="358.8" text-anchor="middle" font-size="6.8" font-weight="bold" fill="#111" stroke="#111" stroke-width="0.15" textLength="29.5" lengthAdjust="spacingAndGlyphs" transform="rotate(0.03 272.6 358.8)">Pre-onset</text>
<text x="465.2" y="27.4" font-size="5" fill="#222" transform="rotate(0.03 465.2 27.4)">1</text>
<text x="465.2" y="38.5" font-size="5" fill="#222" transform="rotate(0.03 465.2 38.5)">0.5</text>
<text x="465.2" y="49.7" font-size="5" fill="#222" transform="rotate(0.03 465.2 49.7)">0</text>
<text x="465.2" y="60.8" font-size="5" fill="#222" transform="rotate(0.03 465.2 60.8)">−0.5</text>
<text x="465.2" y="71.8" font-size="5" fill="#222" transform="rotate(0.03 465.2 71.8)">−1</text>
<text x="463.7" y="100.8" font-size="6.4" fill="#222" textLength="7.2" lengthAdjust="spacingAndGlyphs" transform="rotate(0.03 463.7 100.8)">NS</text>
<text x="463.7" y="111.5" font-size="6.4" fill="#222" textLength="24.3" lengthAdjust="spacingAndGlyphs" transform="rotate(0.03 463.7 111.5)">FDR≤0.05</text>
<text x="452.2" y="126.5" font-size="5.8" fill="#f2b060" textLength="69.5" lengthAdjust="spacingAndGlyphs" transform="rotate(0.03 452.2 126.5)">Carbohydrate degradation</text>
<text x="452.2" y="134.6" font-size="5.8" fill="#e04a94" textLength="61.1" lengthAdjust="spacingAndGlyphs" transform="rotate(0.03 452.2 134.6)">Amino acid biosynthesis</text>
<text x="452.2" y="142.6" font-size="5.8" fill="#5cb6e2" textLength="60.3" lengthAdjust="spacingAndGlyphs" transform="rotate(0.03 452.2 142.6)">Nucleotide biosynthesis</text>
<text x="452.2" y="150.7" font-size="5.8" fill="#a8183c" textLength="52.5" lengthAdjust="spacingAndGlyphs" transform="rotate(0.03 452.2 150.7)">Antibiotic Resistance</text>
<text x="452.2" y="167.6" font-size="5.8" fill="#5aae4a" textLength="33.9" lengthAdjust="spacingAndGlyphs" transform="rotate(0.03 452.2 167.6)">Fermentation</text>
<text x="452.2" y="158.2" font-size="5.8" fill="#d47a5c" transform="rotate(0.03 452.2 158.2)">Vitamin K<tspan font-size="3.8" dy="1.5">2</tspan><tspan dy="-1.5"> biosynthesis</tspan></text>
<text x="92.70" y="78.80" text-anchor="end" font-size="4.8" fill="#777" transform="rotate(0.03 92.70 78.80)">0.8</text>
<text x="92.70" y="85.40" text-anchor="end" font-size="4.8" fill="#777" transform="rotate(0.03 92.70 85.40)">1.0</text>
<text x="92.70" y="92.00" text-anchor="end" font-size="4.8" fill="#777" transform="rotate(0.03 92.70 92.00)">1.2</text>
<text x="92.70" y="98.60" text-anchor="end" font-size="4.8" fill="#777" transform="rotate(0.03 92.70 98.60)">1.4</text>
<text x="92.70" y="105.20" text-anchor="end" font-size="4.8" fill="#777" transform="rotate(0.03 92.70 105.20)">1.6</text>
<text x="100.00" y="104.90" font-size="4.4" fill="#bdbdbd" textLength="66.4" lengthAdjust="spacingAndGlyphs" transform="rotate(0.03 100.00 104.90)">Fold change relative to No-GVHD</text>
<text x="56" y="22.70" font-size="8.8" fill="#2e2e2e" textLength="75.3" lengthAdjust="spacingAndGlyphs" transform="rotate(0.03 56 22.70)"><tspan font-weight="bold" fill="#233a60" stroke="#233a60" stroke-width="0.2">Non-GI</tspan> vs. No-GVHD</text>
<text x="69.90" y="31.60" font-size="6.1" font-weight="bold" fill="#a3a3a3" stroke="#a3a3a3" stroke-width="0.12" textLength="54.1" lengthAdjust="spacingAndGlyphs" transform="rotate(0.03 69.90 31.60)">Antibiotic resistance</text>
<text x="7.60" y="48.70" font-size="6.1" font-weight="bold" fill="#a3a3a3" stroke="#a3a3a3" stroke-width="0.12" textLength="49.4" lengthAdjust="spacingAndGlyphs" transform="rotate(0.03 7.60 48.70)">Carbohydrate Deg.</text>
<text x="127.30" y="49.40" font-size="6.1" font-weight="bold" fill="#a3a3a3" stroke="#a3a3a3" stroke-width="0.12" textLength="26.7" lengthAdjust="spacingAndGlyphs" transform="rotate(0.03 127.30 49.40)">Vitamin K2</text>
<text x="6.20" y="87.00" font-size="6.1" font-weight="bold" fill="#a3a3a3" stroke="#a3a3a3" stroke-width="0.12" textLength="49.2" lengthAdjust="spacingAndGlyphs" transform="rotate(0.03 6.20 87.00)">Nucleotide Biosyn.</text>
<text x="125.30" y="87.00" font-size="6.1" font-weight="bold" fill="#a3a3a3" stroke="#a3a3a3" stroke-width="0.12" textLength="35.7" lengthAdjust="spacingAndGlyphs" transform="rotate(0.03 125.30 87.00)">Fermentation</text>
<text x="74.40" y="111.90" font-size="6.1" font-weight="bold" fill="#a3a3a3" stroke="#a3a3a3" stroke-width="0.12" textLength="42.2" lengthAdjust="spacingAndGlyphs" transform="rotate(0.03 74.40 111.90)">AA Biosynthesis</text>
<text x="93.20" y="187.50" text-anchor="end" font-size="4.8" fill="#777" transform="rotate(0.03 93.20 187.50)">0.8</text>
<text x="93.20" y="194.10" text-anchor="end" font-size="4.8" fill="#777" transform="rotate(0.03 93.20 194.10)">1.0</text>
<text x="93.20" y="200.70" text-anchor="end" font-size="4.8" fill="#777" transform="rotate(0.03 93.20 200.70)">1.2</text>
<text x="93.20" y="207.30" text-anchor="end" font-size="4.8" fill="#777" transform="rotate(0.03 93.20 207.30)">1.4</text>
<text x="93.20" y="213.90" text-anchor="end" font-size="4.8" fill="#777" transform="rotate(0.03 93.20 213.90)">1.6</text>
<text x="100.50" y="213.60" font-size="4.4" fill="#bdbdbd" textLength="66.4" lengthAdjust="spacingAndGlyphs" transform="rotate(0.03 100.50 213.60)">Fold change relative to No-GVHD</text>
<text x="51.9" y="131.20" font-size="8.8" fill="#2e2e2e" textLength="84.3" lengthAdjust="spacingAndGlyphs" transform="rotate(0.03 51.9 131.20)"><tspan font-weight="bold" fill="#4aa640" stroke="#4aa640" stroke-width="0.2">Upper GI</tspan> vs. No-GVHD</text>
<text x="69.20" y="140.70" font-size="6.1" font-weight="bold" fill="#111111" stroke="#111111" stroke-width="0.12" textLength="58.8" lengthAdjust="spacingAndGlyphs" transform="rotate(0.03 69.20 140.70)">Antibiotic resistance *</text>
<text x="6.50" y="158.30" font-size="6.1" font-weight="bold" fill="#a3a3a3" stroke="#a3a3a3" stroke-width="0.12" textLength="51.3" lengthAdjust="spacingAndGlyphs" transform="rotate(0.03 6.50 158.30)">Carbohydrate Deg.</text>
<text x="124.70" y="159.00" font-size="6.1" font-weight="bold" fill="#111111" stroke="#111111" stroke-width="0.12" textLength="34.3" lengthAdjust="spacingAndGlyphs" transform="rotate(0.03 124.70 159.00)">Vitamin K2 *</text>
<text x="4.30" y="196.20" font-size="6.1" font-weight="bold" fill="#111111" stroke="#111111" stroke-width="0.12" textLength="55.3" lengthAdjust="spacingAndGlyphs" transform="rotate(0.03 4.30 196.20)">Nucleotide Biosyn. *</text>
<text x="125.80" y="195.10" font-size="6.1" font-weight="bold" fill="#111111" stroke="#111111" stroke-width="0.12" textLength="40.4" lengthAdjust="spacingAndGlyphs" transform="rotate(0.03 125.80 195.10)">Fermentation *</text>
<text x="68.70" y="221.10" font-size="6.1" font-weight="bold" fill="#111111" stroke="#111111" stroke-width="0.12" textLength="47.7" lengthAdjust="spacingAndGlyphs" transform="rotate(0.03 68.70 221.10)">AA Biosynthesis *</text>
<text x="93.20" y="296.00" text-anchor="end" font-size="4.8" fill="#777" transform="rotate(0.03 93.20 296.00)">0.8</text>
<text x="93.20" y="302.60" text-anchor="end" font-size="4.8" fill="#777" transform="rotate(0.03 93.20 302.60)">1.0</text>
<text x="93.20" y="309.20" text-anchor="end" font-size="4.8" fill="#777" transform="rotate(0.03 93.20 309.20)">1.2</text>
<text x="93.20" y="315.80" text-anchor="end" font-size="4.8" fill="#777" transform="rotate(0.03 93.20 315.80)">1.4</text>
<text x="93.20" y="322.40" text-anchor="end" font-size="4.8" fill="#777" transform="rotate(0.03 93.20 322.40)">1.6</text>
<text x="100.50" y="322.10" font-size="4.4" fill="#bdbdbd" textLength="66.4" lengthAdjust="spacingAndGlyphs" transform="rotate(0.03 100.50 322.10)">Fold change relative to No-GVHD</text>
<text x="51.9" y="239.20" font-size="8.8" fill="#2e2e2e" textLength="84.3" lengthAdjust="spacingAndGlyphs" transform="rotate(0.03 51.9 239.20)"><tspan font-weight="bold" fill="#b01c40" stroke="#b01c40" stroke-width="0.2">Lower GI</tspan> vs. No-GVHD</text>
<text x="69.80" y="248.30" font-size="6.1" font-weight="bold" fill="#111111" stroke="#111111" stroke-width="0.12" textLength="61.5" lengthAdjust="spacingAndGlyphs" transform="rotate(0.03 69.80 248.30)">Antibiotic Resistance **</text>
<text x="6.50" y="266.30" font-size="6.1" font-weight="bold" fill="#a3a3a3" stroke="#a3a3a3" stroke-width="0.12" textLength="51.3" lengthAdjust="spacingAndGlyphs" transform="rotate(0.03 6.50 266.30)">Carbohydrate Deg.</text>
<text x="127.20" y="266.70" font-size="6.1" font-weight="bold" fill="#111111" stroke="#111111" stroke-width="0.12" textLength="34.8" lengthAdjust="spacingAndGlyphs" transform="rotate(0.03 127.20 266.70)">Vitamin K2 *</text>
<text x="0.30" y="302.80" font-size="6.1" font-weight="bold" fill="#111111" stroke="#111111" stroke-width="0.12" textLength="56.8" lengthAdjust="spacingAndGlyphs" transform="rotate(0.03 0.30 302.80)">Nucleotide Biosyn. **</text>
<text x="125.80" y="303.20" font-size="6.1" font-weight="bold" fill="#a3a3a3" stroke="#a3a3a3" stroke-width="0.12" textLength="36.2" lengthAdjust="spacingAndGlyphs" transform="rotate(0.03 125.80 303.20)">Fermentation</text>
<text x="65.80" y="329.60" font-size="6.1" font-weight="bold" fill="#111111" stroke="#111111" stroke-width="0.12" textLength="51.7" lengthAdjust="spacingAndGlyphs" transform="rotate(0.03 65.80 329.60)">AA Biosynthesis ***</text>
</g>
</svg>
</body></html>
